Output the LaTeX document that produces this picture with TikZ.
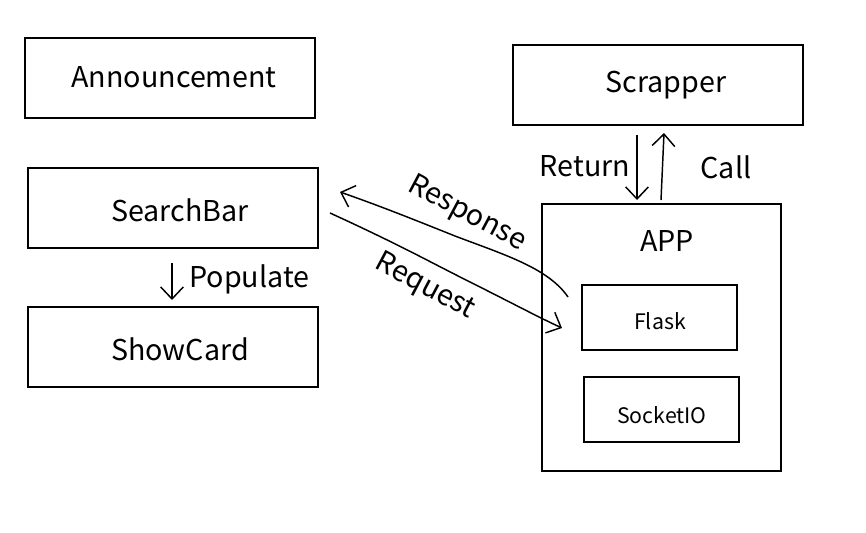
\documentclass[tikz,border=0pt]{standalone}
\usepackage{fontspec}
\setmainfont{Noto Sans CJK SC}
\usetikzlibrary{arrows.meta}

\tikzset{
  block/.style={draw, line width=1.5pt, minimum width=217.5pt, minimum height=60pt, inner sep=0pt},
  inner block/.style={draw, line width=1.5pt, minimum width=116.25pt, minimum height=48.75pt, inner sep=0pt},
  word/.style={inner sep=0pt, font=\fontsize{21.5}{26}\selectfont},
  small word/.style={inner sep=0pt, font=\fontsize{16}{20}\selectfont},
  hand/.style={line width=1.1pt, -{Straight Barb[length=9pt, width=17pt]}}
}

\begin{document}
\begin{tikzpicture}[x=0.75pt,y=0.75pt,yscale=-1,xscale=1]
\useasboundingbox (0,0) rectangle (866,532);

%Shape: Rectangle
\node [block] (announce) at (170,78) {};
\node [word] (announcetxt) at (174,77) {Announcement};
%Shape: Rectangle
\node [block] (scrapper) at (658,85) {};
\node [word] (scrappertxt) at (666,85) {Scrapper};
%Shape: Rectangle
\node [block] (searchbar) at (172.5,208) {};
\node [word] (searchbartxt) at (180,210) {SearchBar};
%Shape: Rectangle
\node [block] (showcard) at (172.5,347) {};
\node [word] (showcardtxt) at (180,349) {ShowCard};

%Shape: Rectangle
\draw [line width=1.5pt] (542,204) rectangle (781,471);
\node [word] (app) at (667,241) {APP};
%Shape: Rectangle
\node [inner block] (flask) at (659.5,317.5) {};
\node [small word] (flasktxt) at (660,321) {Flask};
%Shape: Rectangle
\node [inner block] (socket) at (661.5,409) {};
\node [small word] (sockettxt) at (662,415) {SocketIO};

%Free ends of the hand drawn arrows
\coordinate (popA) at (172,263);
\coordinate (popB) at (172,300);
\coordinate (retA) at (637,135);
\coordinate (retB) at (637,200);
\coordinate (callA) at (661,200);
\coordinate (callB) at (664,133);
\coordinate (respA) at (568,297);
\coordinate (respB) at (340,192);
\coordinate (reqA) at (330,213);
\coordinate (reqB) at (562,328);

%Curve Lines
\draw [hand] (popA) -- (popB);
\draw [hand] (retA) -- (retB);
\draw [hand] (callA) -- (callB);
\draw [hand] (respA) .. controls (548,268) and (505,255) .. (455,236) .. controls (410,218) and (380,206) .. (respB);
\draw [hand] (reqA) .. controls (400,245) and (430,262) .. (470,282) .. controls (510,302) and (540,318) .. (reqB);

% Text Node
\node [word, anchor=west] (populate) at (189,279) {Populate};
% Text Node
\node [word] (return) at (585,166) {Return};
% Text Node
\node [word] (call) at (726,167) {Call};
% Text Node
\node [word, rotate=-28] (response) at (467,214) {Response};
% Text Node
\node [word, rotate=-28] (request) at (425,287) {Request};

\end{tikzpicture}
\end{document}
